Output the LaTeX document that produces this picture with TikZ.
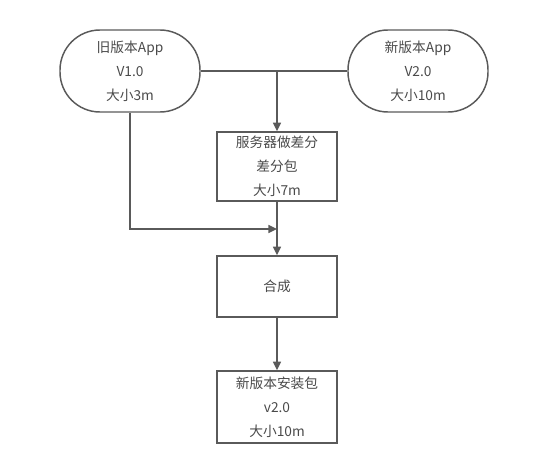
\documentclass[tikz,border=0pt]{standalone}
\usepackage{fontspec}
\newfontfamily\cjk{Noto Sans CJK SC}
\usetikzlibrary{arrows.meta}

\tikzset{
    appnode/.style={draw=linegray, line width=1.1pt, rounded corners=30pt,
        minimum width=105pt, minimum height=61.5pt, align=center, inner sep=0pt,
        text=textgray, font=\cjk\fontsize{10.3}{18}\selectfont},
    stepbox/.style={draw=linegray, line width=1.1pt,
        minimum width=90pt, align=center, inner sep=0pt,
        text=textgray, font=\cjk\fontsize{10.3}{18}\selectfont},
    flow/.style={draw=linegray, line width=1.1pt},
    arrowflow/.style={flow, -{Triangle[length=6.5pt,width=6pt]}}
}
\definecolor{linegray}{HTML}{5A5A5A}
\definecolor{textgray}{HTML}{4A4A4A}

\begin{document}
\begin{tikzpicture}[x=0.75pt,y=-0.75pt]
    \useasboundingbox (0,0) rectangle (541,456);

    \node[appnode] (old) at (130,71) {旧版本App\\V1.0\\大小3m};
    \node[appnode] (new) at (418,71) {新版本App\\V2.0\\大小10m};

    \node[stepbox, minimum height=51.75pt] (diff) at (277,166.5) {服务器做差分\\差分包\\大小7m};
    \node[stepbox, minimum height=45.75pt] (merge) at (277,286.5) {合成};
    \node[stepbox, minimum height=54pt] (pkg) at (277,407) {新版本安装包\\v2.0\\大小10m};

    \coordinate (join) at (277,71);
    \coordinate (meet) at (277,229);

    \draw[flow] (old.east) -- (new.west);
    \draw[arrowflow] (join) -- (diff.north);
    \draw[arrowflow] (old.south) |- (meet);
    \draw[arrowflow] (diff.south) -- (merge.north);
    \draw[arrowflow] (merge.south) -- (pkg.north);

\end{tikzpicture}
\end{document}
